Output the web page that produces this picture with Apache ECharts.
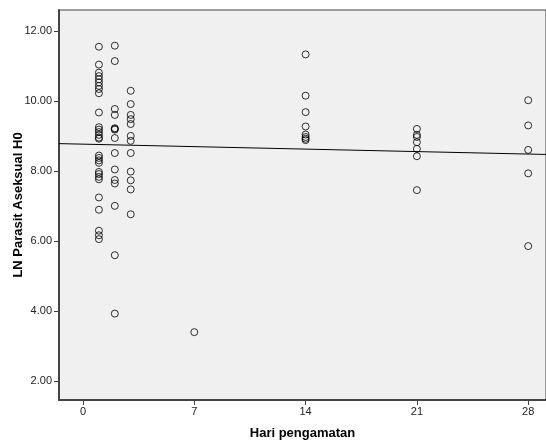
<!DOCTYPE html>
<html>
<head>
<meta charset="utf-8">
<script src="https://cdn.jsdelivr.net/npm/echarts@6/dist/echarts.min.js"></script>
<style>
  html, body { margin: 0; padding: 0; background: #fff; }
  #chart { width: 546px; height: 445px; }
</style>
</head>
<body>
<div id="chart"></div>
<script>
const days = [1, 2, 3, 7, 14, 21, 28];
const day1 = [11.55, 11.04, 10.81, 10.71, 10.62, 10.53, 10.43, 10.34, 10.22, 9.67, 9.25, 9.18, 9.11, 9.03, 8.95, 8.92, 8.44, 8.37, 8.30, 8.23, 7.97, 7.91, 7.83, 7.76, 7.24, 6.89, 6.29, 6.16, 6.05];
const day2 = [11.58, 11.14, 9.77, 9.60, 9.22, 9.20, 9.18, 8.94, 8.51, 8.04, 7.74, 7.64, 7.00, 5.59, 3.92];
const day3 = [10.29, 9.91, 9.60, 9.48, 9.34, 9.00, 8.86, 8.51, 7.98, 7.73, 7.47, 6.76];
const day7 = [3.39];
const day14 = [11.33, 10.15, 9.68, 9.27, 9.04, 8.97, 8.92, 8.88];
const day21 = [9.20, 9.03, 8.97, 8.82, 8.63, 8.42, 7.45];
const day28 = [10.02, 9.30, 8.60, 7.93, 5.85];
const valuesByDay = [day1, day2, day3, day7, day14, day21, day28];

// fit line ends (at the plot edges)
const fitX = [-1.51, 29.12];
const fitY = [8.78, 8.47];

const xTicks = [0, 7, 14, 21, 28];
const yTicks = [2, 4, 6, 8, 10, 12];

let points = [];
for (let i = 0; i < days.length; i++) {
  for (let v of valuesByDay[i]) {
    points.push([days[i], v]);
  }
}

const chart = echarts.init(document.getElementById("chart"));
chart.setOption({
  animation: false,
  backgroundColor: "#ffffff",
  grid: {
    left: 59,
    top: 10,
    right: 0,
    bottom: 42,
    show: true,
    backgroundColor: "#f0f0f0",
    borderColor: "#444",
    borderWidth: 1,
  },
  xAxis: {
    type: "value",
    min: -1.51,
    max: 29.12,
    name: "Hari pengamatan",
    nameLocation: "middle",
    nameGap: 27,
    nameMoveOverlap: false,
    nameTextStyle: { fontFamily: "Liberation Sans", fontWeight: "bold", fontSize: 13, color: "#000" },
    axisLine: { show: true, onZero: false, lineStyle: { color: "#444", width: 2 } },
    axisTick: { show: true, inside: false, customValues: xTicks, length: 5, lineStyle: { color: "#444", width: 1 } },
    axisLabel: {
      customValues: xTicks,
      fontFamily: "Liberation Sans",
      fontSize: 11,
      color: "#222",
      margin: 6,
    },
    splitLine: { show: false },
  },
  yAxis: {
    type: "value",
    min: 1.45,
    max: 12.6,
    name: "LN Parasit Aseksual H0",
    nameLocation: "middle",
    nameGap: 34,
    nameMoveOverlap: false,
    nameTextStyle: { fontFamily: "Liberation Sans", fontWeight: "bold", fontSize: 13, color: "#000" },
    axisLine: { show: true, onZero: false, lineStyle: { color: "#444", width: 2 } },
    axisTick: { show: true, inside: false, customValues: yTicks, length: 5, lineStyle: { color: "#444", width: 1 } },
    axisLabel: {
      customValues: yTicks,
      fontFamily: "Liberation Sans",
      fontSize: 11,
      color: "#222",
      margin: 7,
      formatter: function (value) {
        return value.toFixed(2);
      },
    },
    splitLine: { show: false },
  },
  series: [
    {
      type: "line",
      data: [[fitX[0], fitY[0]], [fitX[1], fitY[1]]],
      symbol: "none",
      lineStyle: { color: "#000", width: 1 },
      silent: true,
      z: 1,
    },
    {
      type: "scatter",
      data: points,
      symbol: "circle",
      symbolSize: 7,
      itemStyle: { color: "rgba(0,0,0,0)", borderColor: "#000", borderWidth: 1 },
      z: 2,
    },
  ],
});
</script>
</body>
</html>
